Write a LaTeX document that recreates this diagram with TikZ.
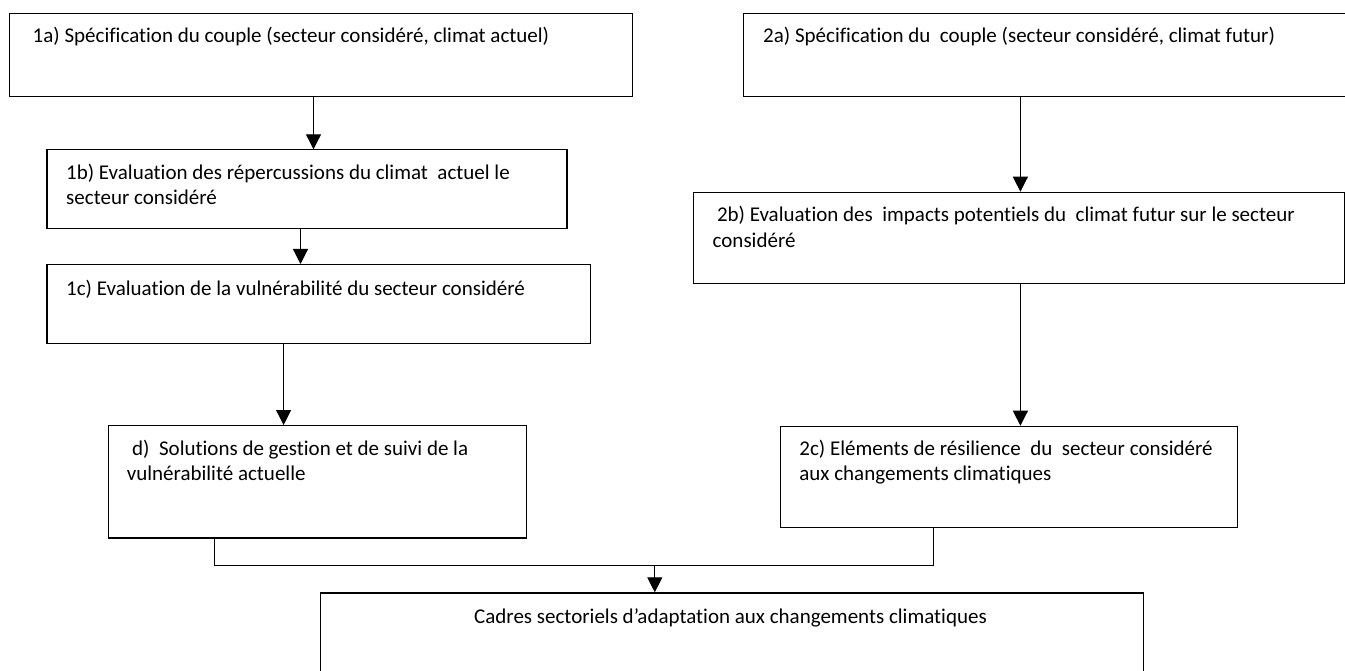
\documentclass[tikz,border=0pt]{standalone}
\usepackage{fontspec}
\setmainfont{Carlito}[Ligatures=NoCommon]
\usetikzlibrary{arrows.meta}
\begin{document}
\begin{tikzpicture}[x=1pt,y=-1pt,
  box/.style={draw=black,line width=1.2pt,rectangle,inner sep=0pt,anchor=north west},
  txt/.style={inner sep=0pt,anchor=base west,font=\fontsize{21}{25}\selectfont},
  link/.style={line width=1.1pt},
  arr/.style={line width=1.1pt,-{Triangle[width=15pt,length=15pt]}}]
\useasboundingbox (0,0) rectangle (1345,671);
\clip (0,0) rectangle (1345,671);
\fill[white] (0,0) rectangle (1345,671);
% boxes
\node[box,minimum width=623.3pt,minimum height=83pt] (b1a) at (8.7,12.7) {};
\node[box,minimum width=519.9pt,minimum height=79pt] (b1b) at (46.4,149.3) {};
\node[box,minimum width=543.8pt,minimum height=78.7pt] (b1c) at (46.4,264) {};
\node[box,minimum width=418.5pt,minimum height=112.3pt] (bd) at (107.5,425) {};
\node[box,minimum width=620pt,minimum height=83pt] (b2a) at (742.9,12.7) {};
\node[box,minimum width=650.7pt,minimum height=91.6pt] (b2b) at (693,191.7) {};
\node[box,minimum width=457.1pt,minimum height=101pt] (b2c) at (779.7,425.7) {};
\node[box,minimum width=823.1pt,minimum height=100pt] (bcad) at (319.6,592.3) {};
% texts
\node[txt] (t1a) at (32.5,43) {1a) Spécification du couple (secteur considéré, climat actuel)};
\node[txt] (t1b1) at (66,180) {1b) Evaluation des répercussions du climat\ \ actuel le};
\node[txt] (t1b2) at (66,205) {secteur considéré};
\node[txt] (t1c) at (66,295) {1c) Evaluation de la vulnérabilité du secteur considéré};
\node[txt] (td1) at (132,455.7) {d)\ \ Solutions de gestion et de suivi de la};
\node[txt] (td2) at (126.6,480.7) {vulnérabilité actuelle};
\node[txt] (t2a) at (763,43) {2a) Spécification du\ \ couple (secteur considéré, climat futur)};
\node[txt] (t2b1) at (716.8,221.7) {2b) Evaluation des\ \ impacts potentiels du\ \ climat futur sur le secteur};
\node[txt] (t2b2) at (712.5,247.5) {considéré};
\node[txt] (t2c1) at (799.2,455.7) {2c) Eléments de résilience\ \ du\ \ secteur considéré};
\node[txt] (t2c2) at (799.2,480.7) {aux changements climatiques};
\node[txt,anchor=base] (tcad) at (730.5,623) {Cadres sectoriels d’adaptation aux changements climatiques};
% connectors
\coordinate (xa) at (313.5,0);
\coordinate (xb) at (300.5,0);
\coordinate (xc) at (283.6,0);
\coordinate (xr) at (1020.4,0);
\coordinate (xd) at (214.2,0);
\coordinate (xe) at (933.7,0);
\coordinate (j) at (654.8,565.7);
\draw[arr] (xa |- b1a.south) -- (xa |- b1b.north);
\draw[arr] (xb |- b1b.south) -- (xb |- b1c.north);
\draw[arr] (xc |- b1c.south) -- (xc |- bd.north);
\draw[arr] (xr |- b2a.south) -- (xr |- b2b.north);
\draw[arr] (xr |- b2b.south) -- (xr |- b2c.north);
\draw[link] (xd |- bd.south) -- (xd |- j) -- (xe |- j) -- (xe |- b2c.south);
\draw[arr] (j) -- (j |- bcad.north);
\end{tikzpicture}
\end{document}
